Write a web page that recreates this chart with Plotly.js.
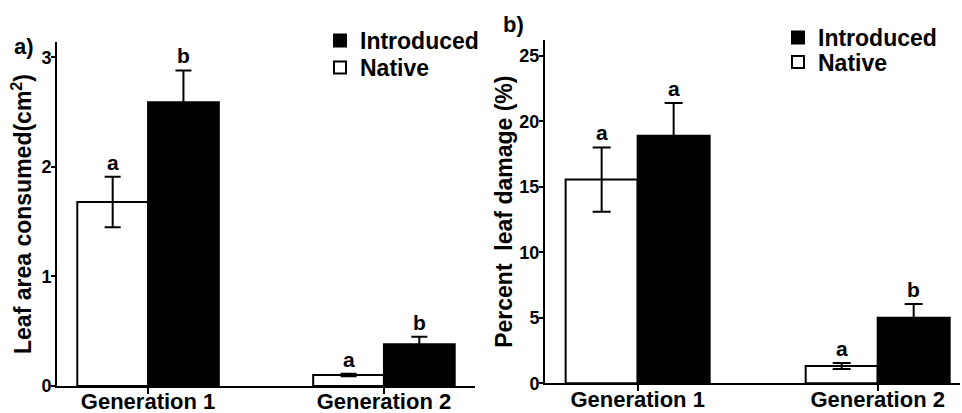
<!DOCTYPE html>
<html>
<head>
<meta charset="utf-8">
<script src="https://cdn.plot.ly/plotly-3.0.1.min.js"></script>
<style>html,body{margin:0;padding:0;background:#fff;}#chart{width:962px;height:413px;}</style>
</head>
<body>
<div id="chart"></div>
<script>
// ---- data ----
const categories = ['Generation 1', 'Generation 2'];
const seriesNames = ['Native', 'Introduced'];

const leafAreaNative = [1.68, 0.10];
const leafAreaNativeErr = [0.23, 0.012];
const leafAreaIntroduced = [2.59, 0.38];
const leafAreaIntroducedErr = [0.29, 0.07];
const leafAreaNativeLetters = ['a', 'a'];
const leafAreaIntroducedLetters = ['b', 'b'];

const damageNative = [15.55, 1.32];
const damageNativeErr = [2.45, 0.22];
const damageIntroduced = [18.9, 5.0];
const damageIntroducedErr = [2.5, 1.05];
const damageNativeLetters = ['a', 'a'];
const damageIntroducedLetters = ['a', 'b'];

const leafAreaTicks = [0, 1, 2, 3];
const damageTicks = [0, 5, 10, 15, 20, 25];

const panelLabels = ['a)', 'b)'];
const yTitles = ['Leaf area consumed(cm<sup>2</sup>)', 'Percent  leaf damage (%)'];

// ---- style ----
const FONT = 'Liberation Sans, Arial, Helvetica, sans-serif';
const bold = (size) => ({family: FONT, size: size, color: '#000', weight: 'bold'});

function barTrace(name, x, y, err, fill, xa, ya, legend, capw) {
  return {
    type: 'bar', name: name, x: x, y: y,
    xaxis: xa, yaxis: ya, legend: legend, showlegend: true,
    marker: {color: fill, line: {color: '#000', width: 2}},
    error_y: {type: 'data', array: err, visible: true, color: '#000', thickness: 2, width: capw},
    hoverinfo: 'skip'
  };
}

const data = [
  barTrace(seriesNames[0], categories, leafAreaNative, leafAreaNativeErr, '#ffffff', 'x', 'y', 'legend2', 8),
  barTrace(seriesNames[1], categories, leafAreaIntroduced, leafAreaIntroducedErr, '#000000', 'x', 'y', 'legend', 8),
  barTrace(seriesNames[0], categories, damageNative, damageNativeErr, '#ffffff', 'x2', 'y2', 'legend4', 9),
  barTrace(seriesNames[1], categories, damageIntroduced, damageIntroducedErr, '#000000', 'x2', 'y2', 'legend3', 9)
];

// letters above error bars
const annotations = [];
function addLetters(vals, errs, letters, offset, xref, yref) {
  vals.forEach((v, i) => {
    annotations.push({
      x: i + offset, y: v + errs[i], xref: xref, yref: yref,
      text: letters[i], showarrow: false, yanchor: 'bottom', yshift: 1,
      font: bold(21)
    });
  });
}
addLetters(leafAreaNative, leafAreaNativeErr, leafAreaNativeLetters, -0.15, 'x', 'y');
addLetters(leafAreaIntroduced, leafAreaIntroducedErr, leafAreaIntroducedLetters, 0.15, 'x', 'y');
addLetters(damageNative, damageNativeErr, damageNativeLetters, -0.15, 'x2', 'y2');
addLetters(damageIntroduced, damageIntroducedErr, damageIntroducedLetters, 0.15, 'x2', 'y2');

annotations.push({xref: 'paper', yref: 'paper', x: 12/962, y: 1 - 46/413, xanchor: 'left', yanchor: 'middle',
  text: panelLabels[0], showarrow: false, font: bold(22)});
annotations.push({xref: 'paper', yref: 'paper', x: 501/962, y: 1 - 25/413, xanchor: 'left', yanchor: 'middle',
  text: panelLabels[1], showarrow: false, font: bold(22)});

const xaxisBase = {
  type: 'category', categoryorder: 'array', categoryarray: categories,
  showline: true, linecolor: '#000', linewidth: 2, showgrid: false, zeroline: false,
  ticks: 'outside', ticklen: 6, tickwidth: 2, tickcolor: '#000',
  tickfont: bold(22), ticklabelstandoff: -11, fixedrange: true
};
const yaxisBase = {
  showline: true, linecolor: '#000', linewidth: 2, showgrid: false, zeroline: false,
  ticks: 'outside', ticklen: 4, tickwidth: 2, tickcolor: '#000',
  tickfont: bold(18), ticklabelstandoff: -4, tickmode: 'array', fixedrange: true
};

function legendAt(px, pyTop) {
  return {x: px/962, y: 1 - pyTop/413, xanchor: 'left', yanchor: 'top',
    font: bold(23), bgcolor: 'rgba(0,0,0,0)', borderwidth: 0};
}

const layout = {
  width: 962, height: 413,
  margin: {l: 0, r: 0, t: 0, b: 0},
  paper_bgcolor: '#fff', plot_bgcolor: '#fff',
  font: {family: FONT, color: '#000'},
  barmode: 'group', bargap: 0.4, bargroupgap: 0,
  xaxis: Object.assign({}, xaxisBase, {domain: [57/962, 475/962], range: [-0.386, 1.386], anchor: 'y'}),
  yaxis: Object.assign({}, yaxisBase, {domain: [1 - 386/413, 1 - 42/413], range: [0, 3.14], anchor: 'x',
    tickvals: leafAreaTicks, ticktext: leafAreaTicks.map(String),
    title: {text: yTitles[0], font: bold(23), standoff: 3}}),
  xaxis2: Object.assign({}, xaxisBase, {domain: [545/962, 960/962], range: [-0.386, 1.343], anchor: 'y2'}),
  yaxis2: Object.assign({}, yaxisBase, {domain: [1 - 383.3/413, 1 - 40/413], range: [0, 26.2], anchor: 'x2',
    tickvals: damageTicks, ticktext: damageTicks.map(String),
    title: {text: yTitles[1], font: bold(23), standoff: 0}}),
  legend: legendAt(320, 19),
  legend2: legendAt(320, 46),
  legend3: legendAt(778, 16),
  legend4: legendAt(778, 40.5),
  annotations: annotations,
  showlegend: true
};

Plotly.newPlot('chart', data, layout, {displayModeBar: false, staticPlot: true});
</script>
</body>
</html>
